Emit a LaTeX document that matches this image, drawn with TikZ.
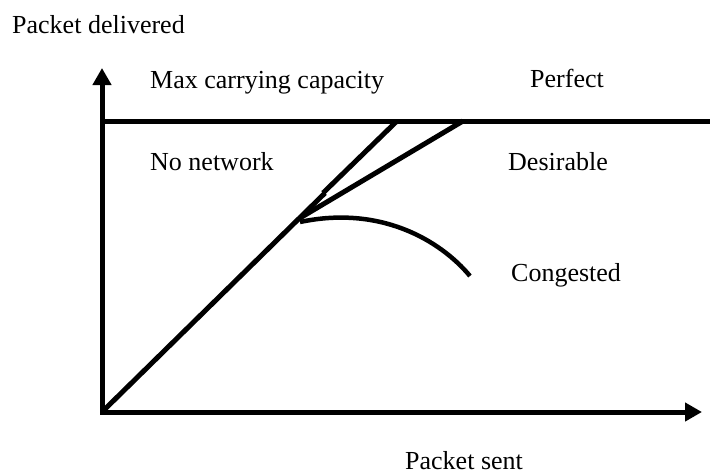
\documentclass[tikz,border=0pt]{standalone}
\usepackage{fontspec}
\setmainfont{Liberation Serif}
\usetikzlibrary{arrows.meta}
\begin{document}
\begin{tikzpicture}[x=1pt,y=-1pt,
  lbl/.style={anchor=base west,inner sep=0pt,font=\fontsize{26pt}{30pt}\selectfont},
  thick line/.style={line width=5pt},
  axistip/.style={-{Triangle[length=17pt,width=18pt]}}]
\useasboundingbox (0,0) rectangle (710,475);
\coordinate (o) at (102,412);
\coordinate (ytop) at (102,68);
\coordinate (xend) at (702,412);
\coordinate (capL) at (102,121);
\coordinate (capR) at (710,121);
\coordinate (d1a) at (325,193);
\coordinate (d1b) at (323,193);
\coordinate (d1c) at (397,121);
\coordinate (k) at (300,218);
\coordinate (d2) at (463,121);
\coordinate (cs) at (300,222);
\coordinate (ce) at (470,276);
\draw[thick line,{Triangle[length=17pt,width=18pt]}-{Triangle[length=17pt,width=18pt]},line join=miter] (ytop) -- (o) -- (xend);
\draw[thick line] (capL) -- (capR);
\draw[thick line] (o) -- (d1a);
\draw[thick line] (d1b) -- (d1c);
\draw[thick line] (k) -- (d2);
\draw[line width=4.5pt] (cs) .. controls (380,205) and (440,240) .. (ce);
\node[lbl] (pd) at (12,33.3) {Packet delivered};
\node[lbl] (mc) at (150,88) {Max carrying capacity};
\node[lbl] (pf) at (530,87.5) {Perfect};
\node[lbl] (nn) at (150,170) {No network};
\node[lbl] (ds) at (508,170) {Desirable};
\node[lbl] (cg) at (511,281) {Congested};
\node[lbl] (ps) at (405,469) {Packet sent};
\end{tikzpicture}
\end{document}
